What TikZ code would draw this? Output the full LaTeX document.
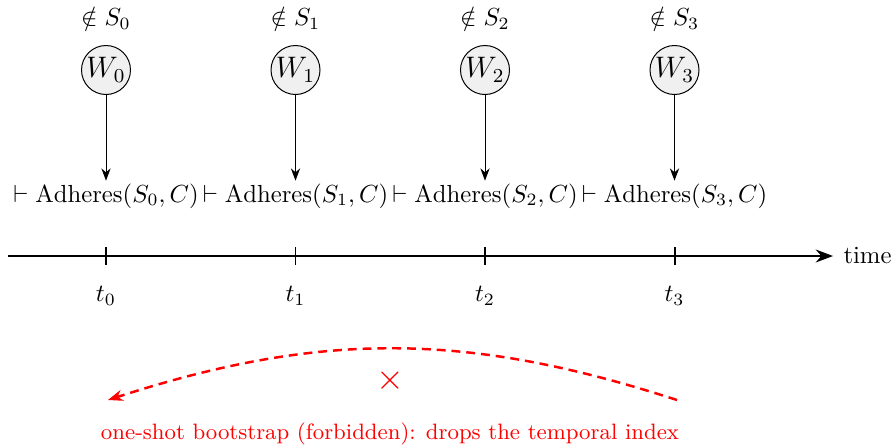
\documentclass[tikz,border=0pt]{standalone}
\usetikzlibrary{arrows.meta}
\newcommand\pxu{0.01422cm}
\begin{document}
\begin{tikzpicture}[x=\pxu, y=-\pxu,
  wnode/.style={circle, draw, fill=gray!12, minimum size=49*\pxu, inner sep=0pt, font=\large},
  arr/.style={-{Stealth[length=5pt]}},
  tickmark/.style={thick}]
\useasboundingbox (0,0) rectangle (893,447);
\foreach \i/\x in {0/106,1/295.5,2/485,3/674.5} {
  \node (lab\i) at (\x,18) {$\notin S_{\i}$};
  \node[wnode] (w\i) at (\x,70) {$W_{\i}$};
  \node[inner sep=1pt] (a\i) at (\x,196) {$\vdash \mathrm{Adheres}(S_{\i}, C)$};
  \draw[arr] (w\i) -- (a\i);
  \coordinate (tk\i) at (\x,256);
  \draw[tickmark] ([yshift=9*\pxu]tk\i) -- ([yshift=-9*\pxu]tk\i);
  \node (t\i) at (\x,296) {$t_{\i}$};
}
\coordinate (axs) at (8,256);
\node[anchor=west, inner sep=0pt] (time) at (843,256) {time};
\draw[thick, -{Stealth[length=7pt]}] (axs) -- ([xshift=-10*\pxu]time.west);
\coordinate (cs) at (677,400);
\coordinate (ce) at (108,400);
\draw[red, line width=1pt, dash pattern=on 3.6pt off 2.4pt, -{Stealth[length=6pt]}] (cs) to[bend right=18] (ce);
\node[red, font=\Large] (x) at (390,381) {$\times$};
\node[red, font=\small] (cap) at (390,434) {one-shot bootstrap (forbidden): drops the temporal index};
\end{tikzpicture}
\end{document}
